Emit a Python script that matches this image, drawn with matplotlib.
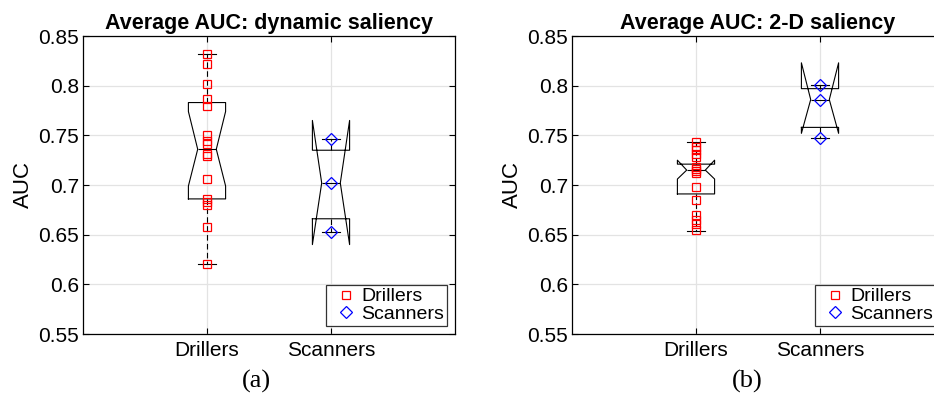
import matplotlib
matplotlib.use("Agg")
import matplotlib.pyplot as plt

plt.rcParams['font.family'] = ['Liberation Sans', 'DejaVu Sans']

# ---------------- data ----------------
categories = ["Drillers", "Scanners"]
yticks = [0.55, 0.6, 0.65, 0.7, 0.75, 0.8, 0.85]
ytick_labels = ["0.55", "0.6", "0.65", "0.7", "0.75", "0.8", "0.85"]

# (a) dynamic saliency - individual AUC values
drillers_dyn = [0.832, 0.822, 0.802, 0.787, 0.780, 0.750, 0.744, 0.741,
                0.731, 0.729, 0.706, 0.686, 0.683, 0.680, 0.658, 0.620]
scanners_dyn = [0.746, 0.702, 0.653]
# box statistics (Drillers, Scanners)
dyn_q1 = [0.686, 0.666]
dyn_med = [0.736, 0.702]
dyn_q3 = [0.783, 0.735]
dyn_cilo = [0.699, 0.640]
dyn_cihi = [0.774, 0.765]
dyn_whislo = [0.620, 0.653]
dyn_whishi = [0.832, 0.746]

# (b) 2-D saliency
drillers_2d = [0.743, 0.738, 0.735, 0.731, 0.728, 0.718, 0.716, 0.714,
               0.712, 0.698, 0.685, 0.670, 0.665, 0.661, 0.655]
scanners_2d = [0.801, 0.786, 0.747]
s2d_q1 = [0.691, 0.758]
s2d_med = [0.715, 0.786]
s2d_q3 = [0.721, 0.797]
s2d_cilo = [0.706, 0.752]
s2d_cihi = [0.725, 0.823]
s2d_whislo = [0.654, 0.747]
s2d_whishi = [0.743, 0.801]

titles = ["Average AUC: dynamic saliency", "Average AUC: 2-D saliency"]
captions = ["(a)", "(b)"]

# ---------------- figure ----------------
W, H = 934, 403
fig = plt.figure(figsize=(W / 100, H / 100), dpi=100)

axes_px = [(83, 36, 372, 298), (572, 36, 372, 298)]
caption_x = [256, 747]


def make_stats(q1, med, q3, cilo, cihi, wlo, whi):
    out = []
    for i, name in enumerate(categories):
        out.append(dict(label=name, q1=q1[i], med=med[i], q3=q3[i],
                        cilo=cilo[i], cihi=cihi[i],
                        whislo=wlo[i], whishi=whi[i], fliers=[]))
    return out


panels = [
    (drillers_dyn, scanners_dyn,
     make_stats(dyn_q1, dyn_med, dyn_q3, dyn_cilo, dyn_cihi, dyn_whislo, dyn_whishi)),
    (drillers_2d, scanners_2d,
     make_stats(s2d_q1, s2d_med, s2d_q3, s2d_cilo, s2d_cihi, s2d_whislo, s2d_whishi)),
]

for k, (x0, y0, w, h) in enumerate(axes_px):
    ax = fig.add_axes([x0 / W, 1 - (y0 + h) / H, w / W, h / H])
    dr, sc, stats = panels[k]
    ax.bxp(stats, positions=[1, 2], widths=0.3, shownotches=True,
           showfliers=False, manage_ticks=False,
           boxprops=dict(color='black', linewidth=0.8),
           whiskerprops=dict(color='black', linewidth=0.8, linestyle=(0, (5, 3))),
           capprops=dict(color='black', linewidth=0.8),
           medianprops=dict(color='black', linewidth=0.8))
    ax.plot([1] * len(dr), dr, linestyle='none', marker='s', markersize=5.8,
            markerfacecolor='none', markeredgecolor='red', markeredgewidth=0.9,
            label='Drillers', zorder=5)
    ax.plot([2] * len(sc), sc, linestyle='none', marker='D', markersize=5.8,
            markerfacecolor='none', markeredgecolor='blue', markeredgewidth=0.9,
            label='Scanners', zorder=5)

    ax.set_xlim(0, 3)
    ax.set_ylim(0.55, 0.85)
    ax.set_xticks([1, 2])
    ax.set_xticklabels(categories, fontsize=15)
    ax.set_yticks(yticks)
    ax.set_yticklabels(ytick_labels, fontsize=15)
    ax.tick_params(direction='in', length=4, width=0.8, top=True, right=True,
                   colors='black')
    ax.tick_params(axis='y', pad=3)
    ax.tick_params(axis='x', pad=5)
    ax.grid(True, color='#e3e3e3', linewidth=0.9)
    ax.set_axisbelow(True)
    for sp in ax.spines.values():
        sp.set_linewidth(0.9)
        sp.set_color('black')
    ax.set_ylabel('AUC', fontsize=16, labelpad=3)
    ax.set_title(titles[k], fontsize=15.5, fontweight='bold', pad=5)

    leg = ax.legend(loc='lower right', fontsize=14, frameon=True,
                    fancybox=False, edgecolor='black', borderaxespad=0.42,
                    handlelength=1.75, handletextpad=-0.1, borderpad=0.15,
                    labelspacing=0.0)
    leg.get_frame().set_linewidth(0.9)

    fig.text(caption_x[k] / W, 1 - 381 / H, captions[k], ha='center',
             va='center', fontsize=19,
             family=['Liberation Serif', 'DejaVu Serif'])

fig.savefig('out.png', dpi=100)
